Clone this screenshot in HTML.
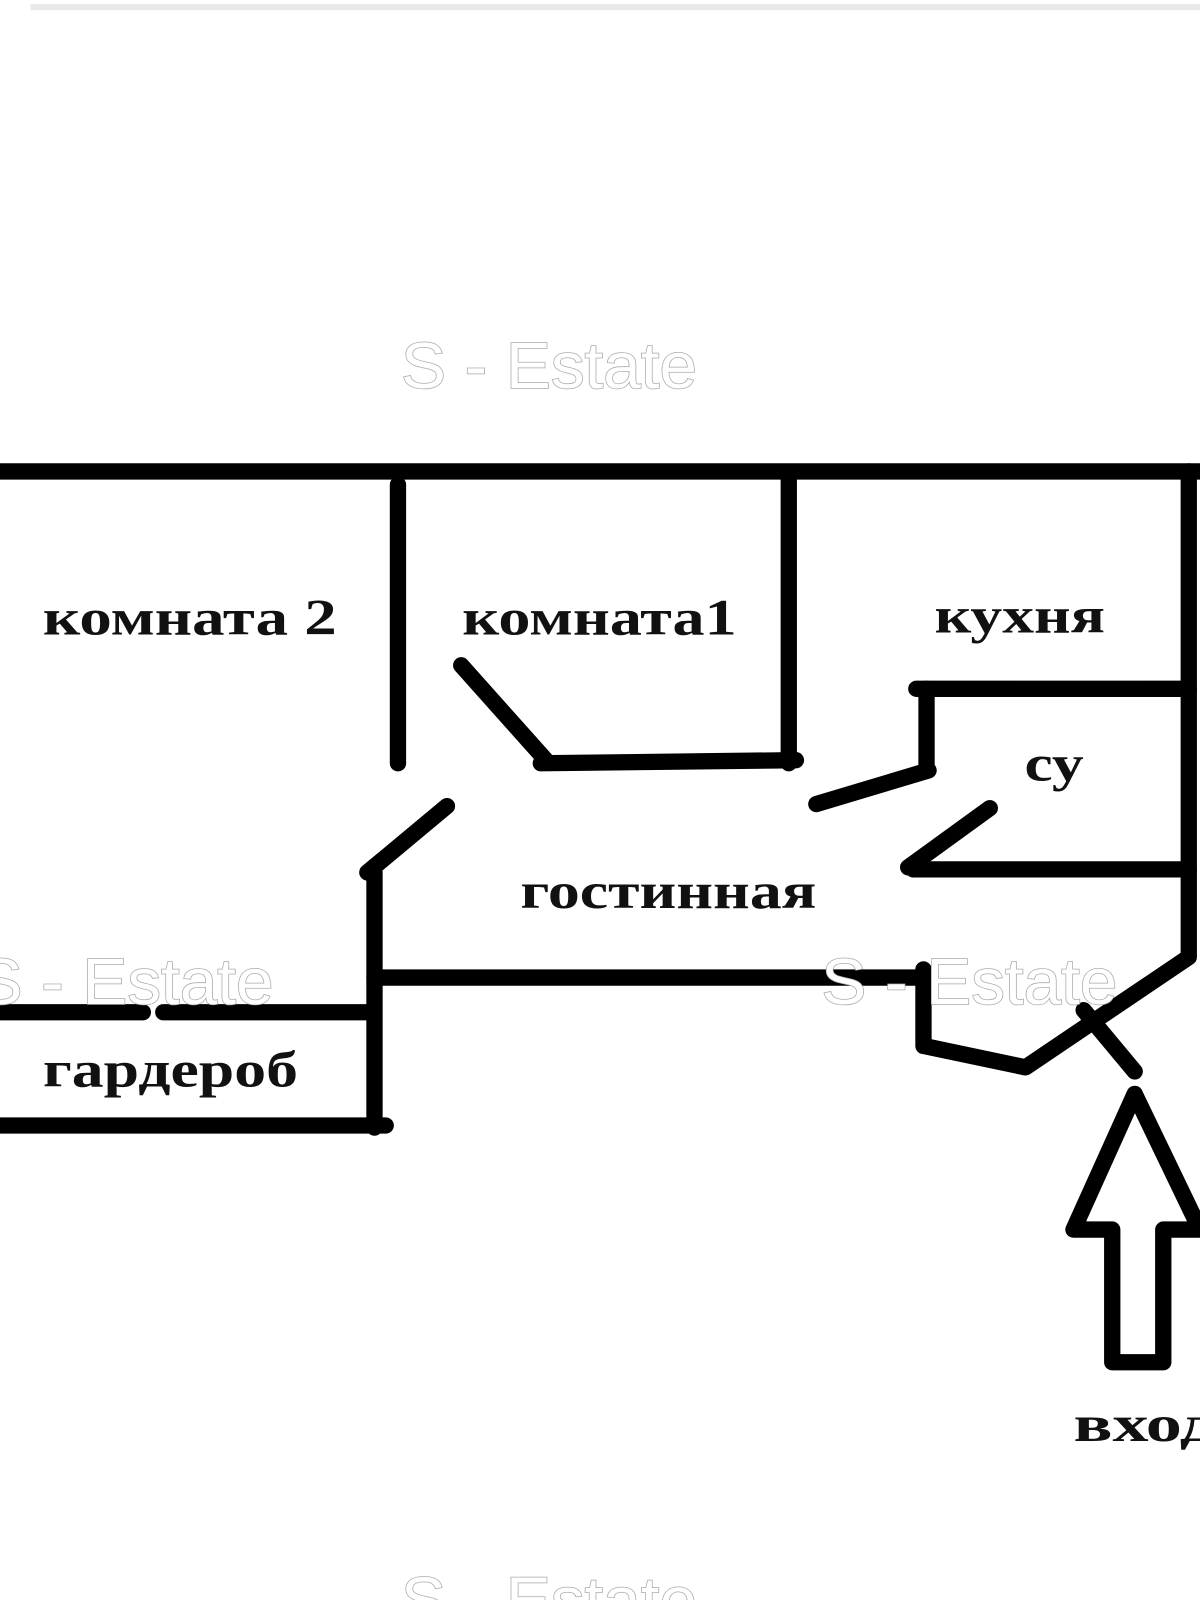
<!DOCTYPE html>
<html><head><meta charset="utf-8"><style>
html,body{margin:0;padding:0;background:#fff;width:1200px;height:1600px;overflow:hidden}
svg{display:block}
.t{font-family:"Liberation Serif","DejaVu Serif",serif;font-weight:bold;fill:#111}
.w{font-family:"Liberation Sans",sans-serif;fill:#fff;stroke:#aaa;stroke-width:1.5;paint-order:stroke}
</style></head><body>
<svg width="1200" height="1600" viewBox="0 0 1176 1568" preserveAspectRatio="none">
<rect x="30" y="4" width="1146" height="6" fill="#e8e8e8"/>
<g stroke="#000" stroke-width="16" fill="none" stroke-linecap="round" stroke-linejoin="round">
<line x1="0" y1="462" x2="1176" y2="462"/>
<polyline points="1165,462 1165,938 1005,1046 905,1025 905,950"/>
<line x1="1062" y1="990" x2="1112" y2="1050"/>
<line x1="390" y1="475" x2="390" y2="748"/>
<line x1="773" y1="470" x2="773" y2="748"/>
<line x1="530" y1="748" x2="780" y2="745"/>
<line x1="452" y1="652" x2="535" y2="745"/>
<line x1="898" y1="675" x2="1165" y2="675"/>
<line x1="908" y1="675" x2="908" y2="755"/>
<line x1="800" y1="788" x2="910" y2="755"/>
<line x1="895" y1="852" x2="1165" y2="852"/>
<line x1="890" y1="850" x2="970" y2="792"/>
<line x1="360" y1="855" x2="438" y2="790"/>
<line x1="367" y1="855" x2="367" y2="1105"/>
<line x1="367" y1="958" x2="905" y2="958"/>
<line x1="0" y1="992" x2="140" y2="992"/>
<line x1="160" y1="992" x2="360" y2="992"/>
<line x1="0" y1="1103" x2="378" y2="1103"/>
<polygon points="1112,1072 1052,1205 1090,1205 1090,1335 1140,1335 1140,1205 1176,1205"/>
</g>
<g class="t" font-size="50">
<text x="42" y="622" textLength="288" lengthAdjust="spacingAndGlyphs">комната 2</text>
<text x="453" y="622" textLength="269" lengthAdjust="spacingAndGlyphs">комната1</text>
<text x="916" y="620" textLength="167" lengthAdjust="spacingAndGlyphs">кухня</text>
<text x="1004" y="765" textLength="58" lengthAdjust="spacingAndGlyphs">су</text>
<text x="510" y="890" textLength="290" lengthAdjust="spacingAndGlyphs">гостинная</text>
<text x="42" y="1065" textLength="250" lengthAdjust="spacingAndGlyphs">гардероб</text>
<text x="1052" y="1412" textLength="140" lengthAdjust="spacingAndGlyphs">вход</text>
</g>
<g class="w" font-size="64">
<text x="393" y="380" textLength="290" lengthAdjust="spacingAndGlyphs">S - Estate</text>
<text x="-22" y="984" textLength="290" lengthAdjust="spacingAndGlyphs">S - Estate</text>
<text x="805" y="984" textLength="290" lengthAdjust="spacingAndGlyphs">S - Estate</text>
<text x="393" y="1590" textLength="290" lengthAdjust="spacingAndGlyphs">S - Estate</text>
</g>
</svg>
</body></html>
